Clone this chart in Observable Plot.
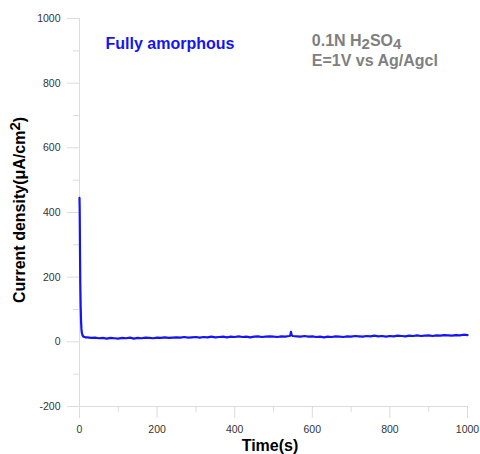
<!DOCTYPE html>
<html><head><meta charset="utf-8">
<script src="https://cdn.jsdelivr.net/npm/d3@7"></script>
<script src="https://cdn.jsdelivr.net/npm/@observablehq/plot@0.6"></script>
<style>body{margin:0;background:#fff;}</style>
</head><body><div id="chart"></div>
<script>
const time = [0,0.5,1,1.5,2,3,4,5,6,8,10,15,
20,30,40,50,60,70,80,90,100,110,120,130,140,150,160,170,180,190,
200,210,220,230,240,250,260,270,280,290,300,310,320,330,340,350,360,370,380,390,
400,410,420,430,440,450,460,470,480,490,500,510,520,530,540,543,545,547,550,560,570,580,590,
600,610,620,630,640,650,660,670,680,690,700,710,720,730,740,750,760,770,780,790,
800,810,820,830,840,850,860,870,880,890,900,910,920,930,940,950,960,970,980,990,1000];
const current = [445,410,330,250,180,110,65,40,28,20,16,14,
14,12,13,11,12,10,12,11,10,12,11,13,10,12,11,13,12,11,
13,12,14,12,13,14,13,15,13,14,15,13,15,14,16,14,15,16,14,16,
15,17,15,16,14,16,17,15,16,17,16,15,17,16,18,19,31,20,18,17,16,18,16,
17,15,16,14,16,15,17,16,15,17,16,18,17,16,18,17,19,17,18,16,
18,17,19,18,17,19,18,20,18,19,20,18,20,19,21,20,19,21,20,22,21];
const xMajor = [0,200,400,600,800,1000];
const xMinor = [100,300,500,700,900];
const yMajor = [-200,0,200,400,600,800,1000];
const yMinor = [-100,100,300,500,700,900];
const xTitle = "Time(s)";
const yTitle = ["Current density(μA/cm", "2", ")"];
const sampleLabel = ["Fully amorphous"];
const sampleLabelPos = [{x:67, y:920}];
const condLine1 = ["0.1N H", "2", "SO", "4"];
const condLine2 = "E=1V vs Ag/Agcl";
const condPos = {x:600, y:925};

const data = time.map((t,i)=>({t, c: current[i]}));
const axisColor = "#dcdcdc";
const fmt = d => String(d);
const plot = Plot.plot({
  width:480, height:454, marginLeft:79, marginRight:13, marginTop:18, marginBottom:48,
  style:{fontFamily:"'Liberation Sans', Arial, sans-serif", fontSize:"10.5px", background:"#fff", color:"#333"},
  x:{domain:[0,1000]}, y:{domain:[-200,1000]},
  marks:[
    Plot.ruleY([-200],{stroke:axisColor}),
    Plot.ruleX([0],{stroke:axisColor}),
    Plot.axisX({ticks:xMajor, tickFormat:fmt, tickSize:12, tickPadding:7, label:null, stroke:axisColor, fill:"#333"}),
    Plot.axisX({ticks:xMinor, tickSize:6, text:null, label:null, stroke:axisColor}),
    Plot.axisY({ticks:yMajor, tickFormat:fmt, tickSize:12, tickPadding:7, label:null, stroke:axisColor, fill:"#333"}),
    Plot.axisY({ticks:yMinor, tickSize:6, text:null, label:null, stroke:axisColor}),
    Plot.line(data,{x:"t", y:"c", stroke:"#1414f5", strokeWidth:2.2}),
    Plot.text(sampleLabelPos,{x:"x", y:"y", text:()=>sampleLabel[0], textAnchor:"start", fill:"#1414f5", fontWeight:"bold", fontSize:16})
  ]
});
document.getElementById("chart").appendChild(plot);
const svg = d3.select(plot);
const sx = plot.scale("x"), sy = plot.scale("y");
const font = "'Liberation Sans', Arial, sans-serif";
// x title
svg.append("text").attr("x", 270).attr("y", 451).attr("text-anchor","middle")
  .attr("font-family", font).attr("font-size", 16).attr("font-weight","bold").attr("fill","#000").text(xTitle);
// y title
const yt = svg.append("text").attr("transform","translate(25,210) rotate(-90)").attr("text-anchor","middle")
  .attr("font-family", font).attr("font-size", 16).attr("font-weight","bold").attr("fill","#000");
yt.append("tspan").text(yTitle[0]);
yt.append("tspan").attr("dy",-5).attr("font-size",15).text(yTitle[1]);
yt.append("tspan").attr("dy",5).text(yTitle[2]);
// conditions
const cx = sx.apply(condPos.x), cy = sy.apply(condPos.y);
const c1 = svg.append("text").attr("x", cx).attr("y", cy).attr("text-anchor","start").attr("font-family", font).attr("font-size",16)
  .attr("font-weight","bold").attr("fill","#808080").attr("dominant-baseline","middle");
c1.append("tspan").text(condLine1[0]);
c1.append("tspan").attr("dy",3).attr("font-size",15).text(condLine1[1]);
c1.append("tspan").attr("dy",-3).text(condLine1[2]);
c1.append("tspan").attr("dy",3).attr("font-size",15).text(condLine1[3]);
svg.append("text").attr("x", cx).attr("y", cy+20).attr("text-anchor","start").attr("font-family", font).attr("font-size",16)
  .attr("font-weight","bold").attr("fill","#808080").attr("dominant-baseline","middle").text(condLine2);
</script>
</body></html>
